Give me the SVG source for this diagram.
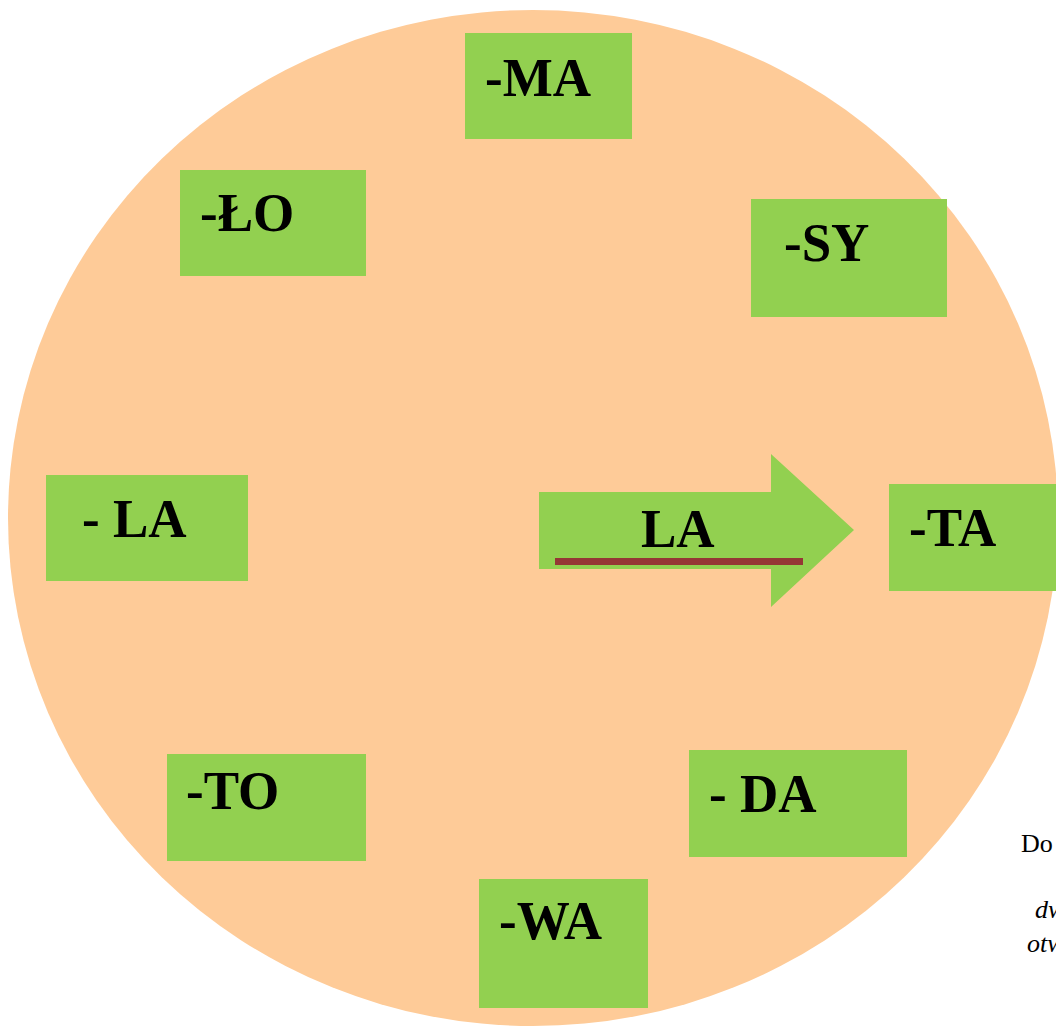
<svg xmlns="http://www.w3.org/2000/svg" width="1056" height="1026" viewBox="0 0 1056 1026">
<style>
.box{fill:#92D050}
.lbl{font-family:"Liberation Serif","Times New Roman",serif;font-weight:bold;font-size:53px;fill:#000}
.note{font-family:"Liberation Serif","Times New Roman",serif;font-size:26px;fill:#000}
.it{font-style:italic}
</style>
<rect width="1056" height="1026" fill="#FFFFFF"/>
<ellipse id="clock" cx="533" cy="518" rx="525" ry="508" fill="#FECB98"/>
<g id="node-ma"><rect class="box" x="465" y="33" width="167" height="106"/><text class="lbl" transform="translate(485,96) scale(1,1.04)">-MA</text></g>
<g id="node-lo"><rect class="box" x="180" y="170" width="186" height="106"/><text class="lbl" transform="translate(200,231) scale(1,1.04)">-ŁO</text></g>
<g id="node-sy"><rect class="box" x="751" y="199" width="196" height="118"/><text class="lbl" transform="translate(784,261) scale(1,1.04)">-SY</text></g>
<g id="node-la-left"><rect class="box" x="46" y="475" width="202" height="106"/><text class="lbl" transform="translate(82,537) scale(1,1.04)">- LA</text></g>
<g id="node-ta"><rect class="box" x="889" y="484" width="180" height="107"/><text class="lbl" transform="translate(909,546) scale(1,1.04)">-TA</text></g>
<g id="node-to"><rect class="box" x="167" y="754" width="199" height="107"/><text class="lbl" transform="translate(186,809) scale(1,1.04)">-TO</text></g>
<g id="node-da"><rect class="box" x="689" y="750" width="218" height="107"/><text class="lbl" transform="translate(709,812) scale(1,1.04)">- DA</text></g>
<g id="node-wa"><rect class="box" x="479" y="879" width="169" height="129"/><text class="lbl" transform="translate(499,939) scale(1,1.04)">-WA</text></g>
<g id="connectors">
<g id="arrow-la">
<polygon class="box" points="539,492 771,492 771,454 854,530 771,607 771,569 539,569"/>
<text class="lbl" transform="translate(641,547) scale(1,1.04)">LA</text>
<rect x="555" y="558" width="248" height="7" fill="#953735"/>
</g>
</g>
<g id="note">
<text class="note" x="1021" y="852">Do</text>
<text class="note it" x="1035" y="918">dw</text>
<text class="note it" x="1027" y="952">otw</text>
</g>
</svg>
